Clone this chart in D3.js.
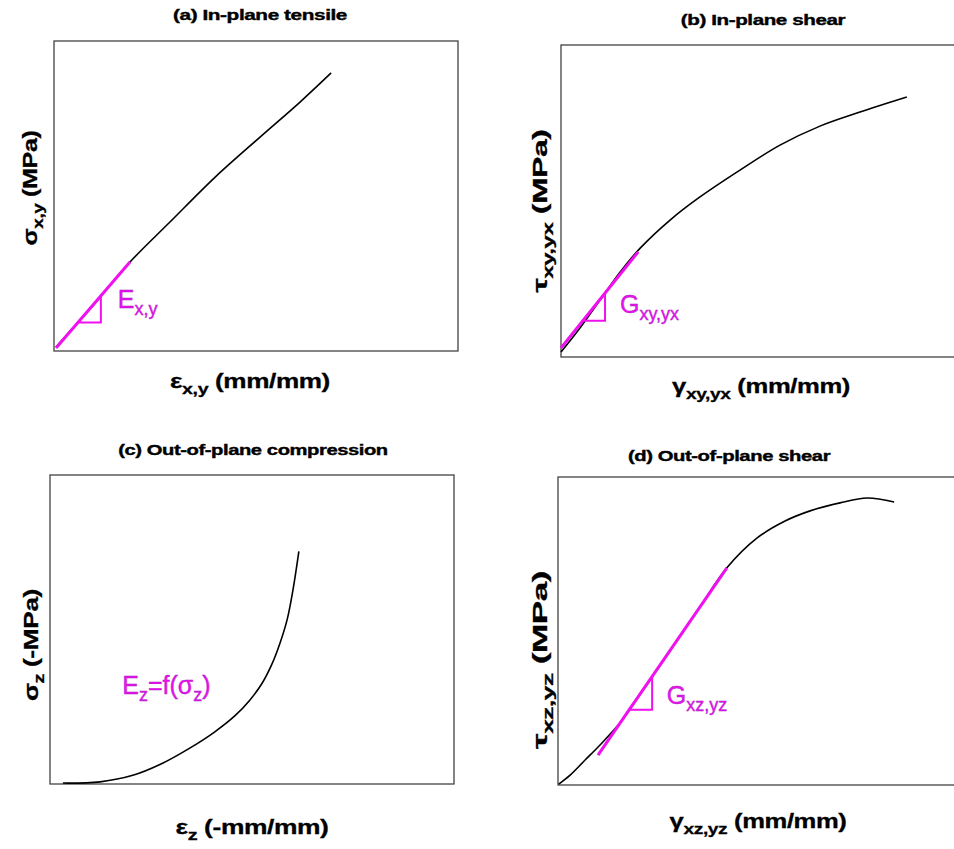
<!DOCTYPE html>
<html><head><meta charset="utf-8">
<script src="https://cdn.jsdelivr.net/npm/d3@7"></script>
<style>body{margin:0;background:#fff}svg{display:block}</style>
</head><body><svg id="chart" width="954" height="849"></svg>
<script>
// ---------- DATA (relative units, 0-100 of each axis) ----------
// (a) In-plane tensile
const tensileStrain    = [0.5, 9.7, 18.8, 28.7, 39.9, 51.0, 60.9, 68.6];
const tensileStress    = [1.3, 14.8, 28.7, 41.6, 56.1, 69.0, 80.3, 89.7];
const tensileModStrain = [0.5, 18.8];
const tensileModStress = [1.0, 28.7];
const tensileTriStrain = [5.9, 11.6, 11.6];
const tensileTriStress = [9.2, 9.2, 17.6];

// (b) In-plane shear
const shearStrain    = [0, 4.7, 9.7, 14.6, 19.6, 27.0, 34.4, 44.3, 54.2, 64.1, 74.0, 85.6];
const shearStress    = [1.6, 9.3, 18.3, 27.2, 34.9, 43.9, 51.3, 59.9, 67.9, 74.0, 78.5, 83.3];
const shearModStrain = [0, 19.1];
const shearModStress = [2.9, 33.7];
const shearTriStrain = [5.4, 10.9, 10.9];
const shearTriStress = [11.6, 11.6, 20.5];

// (c) Out-of-plane compression
const compStrain = [3.2, 12.4, 20.5, 27.2, 34.7, 40.8, 45.8, 49.5, 52.5, 54.9, 56.9, 58.7, 60.1, 61.6];
const compStress = [0.3, 0.7, 2.8, 6.3, 11.7, 16.9, 22.1, 27.2, 32.6, 38.7, 45.5, 53.2, 62.5, 75.3];

// (d) Out-of-plane shear
const oopStrain    = [0.2, 3.0, 6.7, 10.4, 15.3, 20.3, 27.7, 35.1, 41.8, 49.3, 56.2, 62.4, 69.8, 76.5, 83.2];
const oopStress    = [0.3, 3.2, 8.1, 13.0, 20.1, 29.5, 43.5, 57.8, 70.5, 80.2, 85.7, 89.0, 91.6, 93.2, 91.9];
const oopModStrain = [9.9, 41.8];
const oopModStress = [9.7, 70.5];
const oopTriStrain = [17.6, 23.3, 23.3];
const oopTriStress = [24.4, 24.4, 35.1];

// Texts
const titles = ["(a) In-plane tensile", "(b) In-plane shear", "(c) Out-of-plane compression", "(d) Out-of-plane shear"];
const xLabels = [
  [["ε"], ["x,y", 1], [" (mm/mm)"]],
  [["γ"], ["xy,yx", 1], [" (mm/mm)"]],
  [["ε"], ["z", 1], [" (-mm/mm)"]],
  [["γ"], ["xz,yz", 1], [" (mm/mm)"]]
];
const yLabels = [
  [["σ"], ["x,y", 1], [" (MPa)"]],
  [["τ"], ["xy,yx", 1], [" (MPa)"]],
  [["σ"], ["z", 1], [" (-MPa)"]],
  [["τ"], ["xz,yz", 1], [" (MPa)"]]
];
const modLabels = [
  [["E"], ["x,y", 1]],
  [["G"], ["xy,yx", 1]],
  [["E"], ["z", 1], ["=f(σ"], ["z", 1], [")"]],
  [["G"], ["xz,yz", 1]]
];
const modLabelPos = [[15.8, 14.0], [14.6, 14.2], [17.9, 29.2], [26.9, 26.4]];

// ---------- LAYOUT ----------
const layout = [
  {left: 54,  top: 41,  width: 404, height: 310,
   title: [260, 20, 174], xl: [250, 388, 160], yl: [37, 188, 115]},
  {left: 561, top: 45,  width: 404, height: 312,
   title: [763, 25, 165], xl: [761, 393, 178], yl: [547, 211, 163]},
  {left: 50,  top: 475, width: 404, height: 309,
   title: [253, 455, 270], xl: [252, 834, 153], yl: [38, 645, 112]},
  {left: 558, top: 477, width: 404, height: 308,
   title: [729, 461, 203], xl: [758, 828, 177], yl: [547, 660, 178]}
];

const series = [
  {x: tensileStrain, y: tensileStress, mx: tensileModStrain, my: tensileModStress, tx: tensileTriStrain, ty: tensileTriStress},
  {x: shearStrain, y: shearStress, mx: shearModStrain, my: shearModStress, tx: shearTriStrain, ty: shearTriStress},
  {x: compStrain, y: compStress},
  {x: oopStrain, y: oopStress, mx: oopModStrain, my: oopModStress, tx: oopTriStrain, ty: oopTriStress}
];

const MAGENTA = "#f010f0";
const FONT = "'Liberation Sans', Arial, Helvetica, sans-serif";
const svg = d3.select("#chart");

function richText(parent, parts, size, subSize, weight, fill) {
  const t = parent.append("text")
    .attr("font-family", FONT).attr("font-size", size)
    .attr("font-weight", weight).attr("fill", fill)
    .attr("text-anchor", "middle");
  let shifted = false;
  const shift = Math.round(size * 0.28);
  parts.forEach(([s, sub]) => {
    const ts = t.append("tspan").text(s);
    if (sub && !shifted) { ts.attr("dy", shift).attr("font-size", subSize); shifted = true; }
    else if (sub) { ts.attr("font-size", subSize); }
    else if (!sub && shifted) { ts.attr("dy", -shift); shifted = false; }
  });
  return t;
}

// stretched, centered bold text fit to a target width
function fitText(parts, cx, cy, size, subSize, targetW, rot, strokeW) {
  const g = svg.append("g");
  const t = richText(g, parts, size, subSize, "bold", "#000")
    .attr("stroke", "#000").attr("stroke-width", strokeW).attr("letter-spacing", -0.3);
  const w = t.node().getBBox().width;
  const sx = targetW / w;
  g.attr("transform", `translate(${cx},${cy}) rotate(${rot}) scale(${sx},1)`);
}

series.forEach((s, i) => {
  const L = layout[i];
  const x = d3.scaleLinear().domain([0, 100]).range([L.left, L.left + L.width]);
  const y = d3.scaleLinear().domain([0, 100]).range([L.top + L.height, L.top]);
  const g = svg.append("g");

  // frame
  g.append("rect").attr("x", x(0)).attr("y", y(100))
    .attr("width", x(100) - x(0)).attr("height", y(0) - y(100))
    .attr("fill", "none").attr("stroke", "#333").attr("stroke-width", 1.2);

  const line = d3.line().x(d => x(d[0])).y(d => y(d[1])).curve(d3.curveCatmullRom.alpha(0.5));
  const straight = d3.line().x(d => x(d[0])).y(d => y(d[1]));

  // main curve
  g.append("path").datum(d3.zip(s.x, s.y)).attr("d", line)
    .attr("fill", "none").attr("stroke", "#000").attr("stroke-width", 1.6);

  // tangent modulus line + triangle
  if (s.mx) {
    g.append("path").datum(d3.zip(s.mx, s.my)).attr("d", straight)
      .attr("fill", "none").attr("stroke", MAGENTA).attr("stroke-width", 3);
    g.append("path")
      .attr("d", straight(d3.zip(s.tx, s.ty)) + "Z")
      .attr("fill", "none").attr("stroke", MAGENTA).attr("stroke-width", 2);
  }

  // modulus label
  richText(g, modLabels[i], 25, 18, "normal", MAGENTA)
    .attr("text-anchor", "start")
    .attr("stroke", "#a020c0").attr("stroke-width", 0.4)
    .attr("x", x(modLabelPos[i][0])).attr("y", y(modLabelPos[i][1]));

  // title and axis labels
  fitText([[titles[i]]], L.title[0], L.title[1], 15, 10, L.title[2], 0, 0.4);
  fitText(xLabels[i], L.xl[0], L.xl[1], 20, 15, L.xl[2], 0, 0.3);
  fitText(yLabels[i], L.yl[0], L.yl[1], 20, 15, L.yl[2], -90, 0.3);
});
</script>
</body></html>
